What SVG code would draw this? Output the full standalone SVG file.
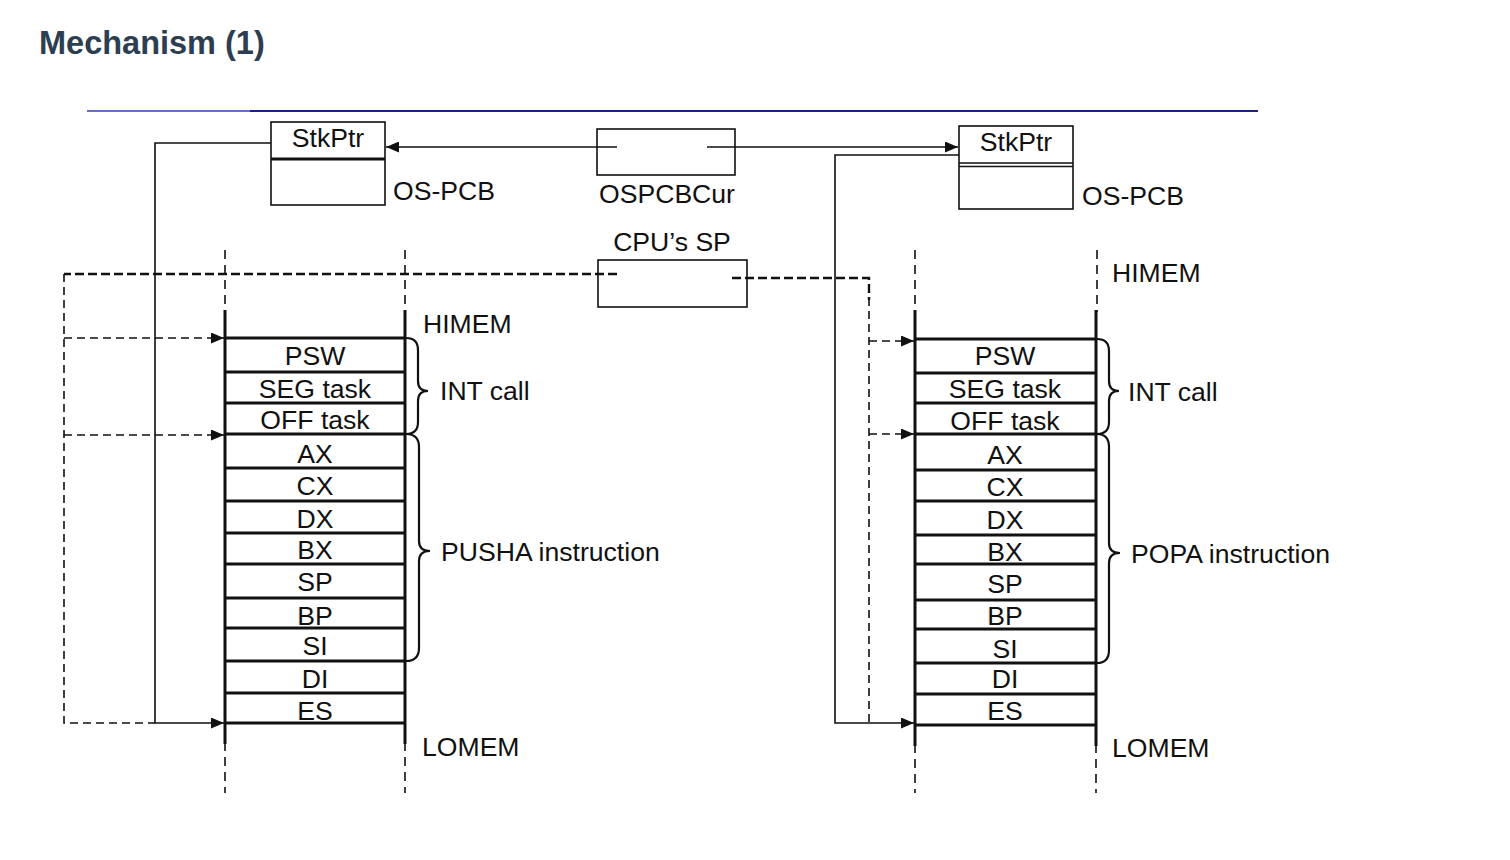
<svg xmlns="http://www.w3.org/2000/svg" width="1510" height="860" viewBox="0 0 1510 860">
<style>
text{font-family:"Liberation Sans",Arial,sans-serif;font-size:26.6px;fill:#111}
.title{font-size:32.5px;font-weight:bold;fill:#2c3e50}
.c{text-anchor:middle}
.box{fill:#fff;stroke:#111;stroke-width:1.6}
.row{stroke:#111;stroke-width:3;fill:none}
.ln{stroke:#111;stroke-width:1.6;fill:none}
.dsh{stroke:#111;stroke-width:1.6;fill:none;stroke-dasharray:8 5}
.dshb{stroke:#111;stroke-width:2.4;fill:none;stroke-dasharray:9 4}
.vd{stroke:#111;stroke-width:1.6;fill:none;stroke-dasharray:9 6}
.br{stroke:#111;stroke-width:2.2;fill:none}
</style>
<defs>
<marker id="ah" viewBox="0 0 13 11" refX="13" refY="5.5" markerWidth="13" markerHeight="11" markerUnits="userSpaceOnUse" orient="auto">
<path d="M0,0 L13,5.5 L0,11 Z" fill="#111"/>
</marker>
</defs>
<rect width="1510" height="860" fill="#fff"/>
<text class="title" x="39" y="54">Mechanism (1)</text>
<line x1="87" y1="111" x2="1258" y2="111" stroke="#1c1c8c" stroke-width="1.8"/>
<line x1="87" y1="111" x2="250" y2="111" stroke="#6b6bd0" stroke-width="1.8"/>

<g id="pcb-left">
<rect class="box" x="271" y="122" width="114" height="83"/>
<line x1="271" y1="159" x2="385" y2="159" stroke="#111" stroke-width="3"/>
<text class="c" x="328" y="147">StkPtr</text>
<text x="393" y="200">OS-PCB</text>
</g>
<g id="ospcbcur">
<rect class="box" x="597" y="129" width="138" height="46"/>
<text class="c" x="667" y="203">OSPCBCur</text>
</g>
<g id="cpusp">
<rect class="box" x="598" y="260" width="149" height="47"/>
<text class="c" x="672" y="251">CPU’s SP</text>
</g>
<g id="pcb-right">
<rect class="box" x="959" y="126" width="114" height="83"/>
<line x1="959" y1="163" x2="1073" y2="163" stroke="#111" stroke-width="1.6"/>
<line x1="959" y1="166.5" x2="1073" y2="166.5" stroke="#111" stroke-width="1.6"/>
<text class="c" x="1016" y="151">StkPtr</text>
<text x="1082" y="205">OS-PCB</text>
</g>

<g id="stack-left">
<line class="vd" x1="225" y1="250" x2="225" y2="312"/>
<line class="vd" x1="405" y1="250" x2="405" y2="312"/>
<line class="row" x1="225" y1="310" x2="225" y2="744"/>
<line class="row" x1="405" y1="310" x2="405" y2="744"/>
<line class="vd" x1="225" y1="742" x2="225" y2="793"/>
<line class="vd" x1="405" y1="742" x2="405" y2="793"/>
<path class="row" d="M225,338H405M225,372H405M225,403H405M225,434H405M225,468H405M225,501H405M225,533H405M225,564H405M225,598H405M225,628H405M225,661H405M225,693H405M225,723H405"/>
<text class="c" x="315" y="365">PSW</text>
<text class="c" x="315" y="398">SEG task</text>
<text class="c" x="315" y="429">OFF task</text>
<text class="c" x="315" y="463">AX</text>
<text class="c" x="315" y="495">CX</text>
<text class="c" x="315" y="528">DX</text>
<text class="c" x="315" y="559">BX</text>
<text class="c" x="315" y="591">SP</text>
<text class="c" x="315" y="625">BP</text>
<text class="c" x="315" y="655">SI</text>
<text class="c" x="315" y="688">DI</text>
<text class="c" x="315" y="720">ES</text>
<text x="423" y="333">HIMEM</text>
<text x="422" y="756">LOMEM</text>
<path class="br" d="M406,338 Q418,338 418,350 L418,381 Q418,391 428,391 Q418,391 418,401 L418,422 Q418,434 406,434"/>
<text x="440" y="400">INT call</text>
<path class="br" d="M406,434 Q419,434 419,447 L419,541 Q419,551 430,551 Q419,551 419,561 L419,648 Q419,661 406,661"/>
<text x="441" y="561">PUSHA instruction</text>
</g>

<g id="stack-right">
<line class="vd" x1="915" y1="250" x2="915" y2="312"/>
<line class="vd" x1="1097" y1="250" x2="1097" y2="312"/>
<line class="row" x1="915" y1="310" x2="915" y2="746"/>
<line class="row" x1="1096" y1="310" x2="1096" y2="746"/>
<line class="vd" x1="915" y1="744" x2="915" y2="793"/>
<line class="vd" x1="1096" y1="744" x2="1096" y2="793"/>
<path class="row" d="M915,339H1096M915,373H1096M915,403H1096M915,434H1096M915,470H1096M915,501H1096M915,535H1096M915,564H1096M915,600H1096M915,629H1096M915,663H1096M915,694H1096M915,725H1096"/>
<text class="c" x="1005" y="365">PSW</text>
<text class="c" x="1005" y="398">SEG task</text>
<text class="c" x="1005" y="430">OFF task</text>
<text class="c" x="1005" y="464">AX</text>
<text class="c" x="1005" y="496">CX</text>
<text class="c" x="1005" y="529">DX</text>
<text class="c" x="1005" y="561">BX</text>
<text class="c" x="1005" y="593">SP</text>
<text class="c" x="1005" y="625">BP</text>
<text class="c" x="1005" y="658">SI</text>
<text class="c" x="1005" y="688">DI</text>
<text class="c" x="1005" y="720">ES</text>
<text x="1112" y="282">HIMEM</text>
<text x="1112" y="757">LOMEM</text>
<path class="br" d="M1097,339 Q1109,339 1109,351 L1109,381 Q1109,391 1119,391 Q1109,391 1109,401 L1109,422 Q1109,434 1097,434"/>
<text x="1128" y="401">INT call</text>
<path class="br" d="M1097,434 Q1109,434 1109,447 L1109,543 Q1109,553 1120,553 Q1109,553 1109,563 L1109,650 Q1109,663 1097,663"/>
<text x="1131" y="563">POPA instruction</text>
</g>

<g id="connectors">
<line class="ln" x1="617" y1="147" x2="386" y2="147" marker-end="url(#ah)"/>
<line class="ln" x1="707" y1="147" x2="958" y2="147" marker-end="url(#ah)"/>
<polyline class="ln" points="271,143 155,143 155,723 224,723" marker-end="url(#ah)"/>
<polyline class="ln" points="959,155 835,155 835,723 914,723" marker-end="url(#ah)"/>
<polyline class="dshb" points="617,274 64,274"/>
<polyline class="dsh" points="64,274 64,723 155,723"/>
<line class="dsh" x1="64" y1="338" x2="224" y2="338" marker-end="url(#ah)"/>
<line class="dsh" x1="64" y1="435" x2="224" y2="435" marker-end="url(#ah)"/>
<polyline class="dshb" points="732,278 869,278 869,300"/>
<line class="dsh" x1="869" y1="298" x2="869" y2="723"/>
<line class="dsh" x1="869" y1="341" x2="914" y2="341" marker-end="url(#ah)"/>
<line class="dsh" x1="869" y1="434" x2="914" y2="434" marker-end="url(#ah)"/>
</g>
</svg>
